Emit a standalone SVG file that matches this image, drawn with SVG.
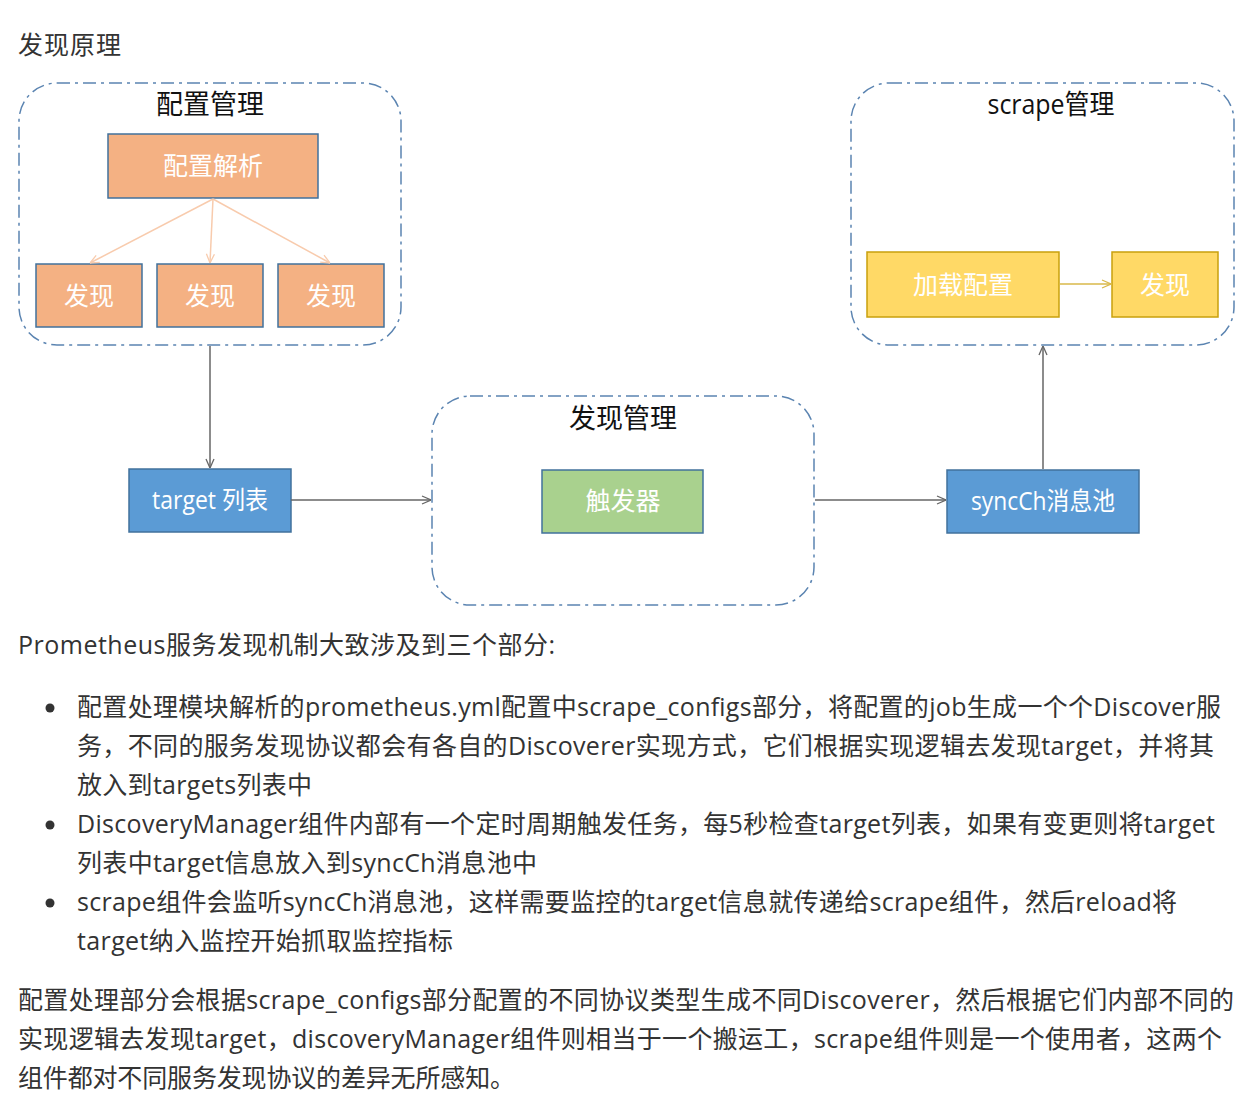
<svg xmlns="http://www.w3.org/2000/svg" width="1254" height="1101" viewBox="0 0 1254 1101">
<defs>
<style>
.txt{font-family:"Open Sans","Noto Sans CJK SC",sans-serif;font-size:25px;fill:#333333}
.cont{fill:none;stroke:#5b84b1;stroke-width:1.5;stroke-dasharray:13 5 3 5}
.ctitle{font-family:"Open Sans","Noto Sans CJK SC",sans-serif;font-size:27px;fill:#111111;text-anchor:middle}
.lbl{font-family:"Open Sans","Noto Sans CJK SC",sans-serif;font-size:25px;fill:#ffffff;text-anchor:middle}
.orange{fill:#f4b183;stroke:#41719c;stroke-width:1.5}
.blue{fill:#5b9bd5;stroke:#41719c;stroke-width:1.5}
.green{fill:#a9d18e;stroke:#41719c;stroke-width:1.5}
.yellow{fill:#ffd966;stroke:#c9a00c;stroke-width:1.5}
.gline{fill:none;stroke:#666666;stroke-width:1.5}
.oline{fill:none;stroke:#f8cbad;stroke-width:1.5}
.yline{fill:none;stroke:#d9b84a;stroke-width:1.5}
</style>
<marker id="ag" viewBox="0 0 10 10" refX="10" refY="5" markerWidth="10" markerHeight="10" markerUnits="userSpaceOnUse" orient="auto"><path d="M1,1 L10,5 L1,9" fill="none" stroke="#666666" stroke-width="1.3"/></marker>
<marker id="ao" viewBox="0 0 10 10" refX="10" refY="5" markerWidth="10" markerHeight="10" markerUnits="userSpaceOnUse" orient="auto"><path d="M1,1 L10,5 L1,9" fill="none" stroke="#f8cbad" stroke-width="1.3"/></marker>
<marker id="ay" viewBox="0 0 10 10" refX="10" refY="5" markerWidth="10" markerHeight="10" markerUnits="userSpaceOnUse" orient="auto"><path d="M1,1 L10,5 L1,9" fill="none" stroke="#d9b84a" stroke-width="1.3"/></marker>
</defs>
<rect x="0" y="0" width="1254" height="1101" fill="#ffffff"/>

<text class="txt" x="18" y="54" textLength="103" lengthAdjust="spacing">发现原理</text>

<g id="config-mgmt">
<rect class="cont" x="19" y="83" width="382" height="262" rx="38" ry="38"/>
<text class="ctitle" x="210" y="114">配置管理</text>
</g>
<g id="config-parse">
<rect class="orange" x="108" y="134" width="210" height="64"/>
<text class="lbl" x="213" y="175">配置解析</text>
</g>
<g id="discover1">
<rect class="orange" x="36" y="264" width="106" height="63"/>
<text class="lbl" x="89" y="305">发现</text>
</g>
<g id="discover2">
<rect class="orange" x="157" y="264" width="106" height="63"/>
<text class="lbl" x="210" y="305">发现</text>
</g>
<g id="discover3">
<rect class="orange" x="278" y="264" width="106" height="63"/>
<text class="lbl" x="331" y="305">发现</text>
</g>

<g id="target-list">
<rect class="blue" x="129" y="469" width="162" height="63"/>
<text class="lbl" x="210" y="509" textLength="116" lengthAdjust="spacingAndGlyphs">target 列表</text>
</g>

<g id="discovery-mgmt">
<rect class="cont" x="432" y="396" width="382" height="209" rx="38" ry="38"/>
<text class="ctitle" x="623" y="428">发现管理</text>
</g>
<g id="trigger">
<rect class="green" x="542" y="470" width="161" height="63"/>
<text class="lbl" x="623" y="510">触发器</text>
</g>

<g id="syncch">
<rect class="blue" x="947" y="470" width="192" height="63"/>
<text class="lbl" x="1043" y="510" textLength="144" lengthAdjust="spacingAndGlyphs">syncCh消息池</text>
</g>

<g id="scrape-mgmt">
<rect class="cont" x="851" y="83" width="383" height="262" rx="38" ry="38"/>
<text class="ctitle" x="1051" y="114" textLength="127" lengthAdjust="spacingAndGlyphs">scrape管理</text>
</g>
<g id="load-config">
<rect class="yellow" x="867" y="252" width="192" height="65"/>
<text class="lbl" x="963" y="294">加载配置</text>
</g>
<g id="scrape-discover">
<rect class="yellow" x="1112" y="252" width="106" height="65"/>
<text class="lbl" x="1165" y="294">发现</text>
</g>

<g id="connectors">
<line class="oline" x1="213" y1="199" x2="90" y2="263" marker-end="url(#ao)"/>
<line class="oline" x1="213" y1="199" x2="210" y2="263" marker-end="url(#ao)"/>
<line class="oline" x1="213" y1="199" x2="330" y2="263" marker-end="url(#ao)"/>
<line class="gline" x1="210" y1="346" x2="210" y2="468" marker-end="url(#ag)"/>
<line class="gline" x1="291" y1="500" x2="431" y2="500" marker-end="url(#ag)"/>
<line class="gline" x1="815" y1="500" x2="946" y2="500" marker-end="url(#ag)"/>
<line class="gline" x1="1043" y1="469" x2="1043" y2="346" marker-end="url(#ag)"/>
<line class="yline" x1="1059" y1="284" x2="1111" y2="284" marker-end="url(#ay)"/>
</g>

<g id="body-text">
<text class="txt" x="18" y="654" textLength="537" lengthAdjust="spacing">Prometheus服务发现机制大致涉及到三个部分:</text>
<circle cx="50" cy="708" r="4.5" fill="#333333"/>
<circle cx="50" cy="825" r="4.5" fill="#333333"/>
<circle cx="50" cy="903" r="4.5" fill="#333333"/>
<text class="txt" x="77" y="716" textLength="1144" lengthAdjust="spacing">配置处理模块解析的prometheus.yml配置中scrape_configs部分，将配置的job生成一个个Discover服</text>
<text class="txt" x="77" y="755" textLength="1137" lengthAdjust="spacing">务，不同的服务发现协议都会有各自的Discoverer实现方式，它们根据实现逻辑去发现target，并将其</text>
<text class="txt" x="77" y="794" textLength="235" lengthAdjust="spacing">放入到targets列表中</text>
<text class="txt" x="77" y="833" textLength="1138" lengthAdjust="spacing">DiscoveryManager组件内部有一个定时周期触发任务，每5秒检查target列表，如果有变更则将target</text>
<text class="txt" x="77" y="872" textLength="460" lengthAdjust="spacing">列表中target信息放入到syncCh消息池中</text>
<text class="txt" x="77" y="911" textLength="1100" lengthAdjust="spacing">scrape组件会监听syncCh消息池，这样需要监控的target信息就传递给scrape组件，然后reload将</text>
<text class="txt" x="77" y="950" textLength="376" lengthAdjust="spacing">target纳入监控开始抓取监控指标</text>
<text class="txt" x="18" y="1009" textLength="1216" lengthAdjust="spacing">配置处理部分会根据scrape_configs部分配置的不同协议类型生成不同Discoverer，然后根据它们内部不同的</text>
<text class="txt" x="18" y="1048" textLength="1204" lengthAdjust="spacing">实现逻辑去发现target，discoveryManager组件则相当于一个搬运工，scrape组件则是一个使用者，这两个</text>
<text class="txt" x="18" y="1087" textLength="497" lengthAdjust="spacing">组件都对不同服务发现协议的差异无所感知。</text>
</g>
</svg>
